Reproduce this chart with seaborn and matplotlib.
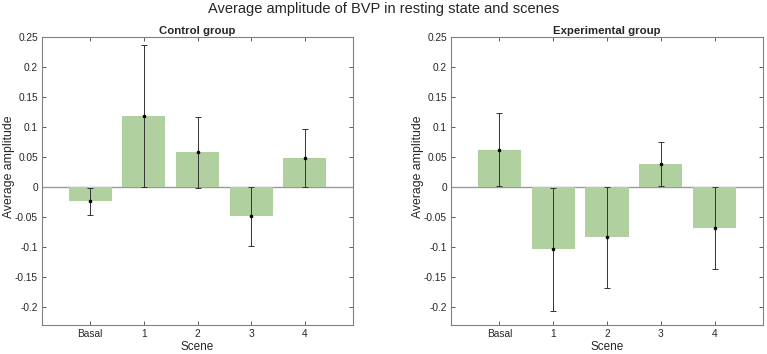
import numpy as np
import pandas as pd
import seaborn as sns
import matplotlib
matplotlib.use("Agg")
import matplotlib.pyplot as plt
from matplotlib.ticker import FuncFormatter

scenes = ["Basal", "1", "2", "3", "4"]
control_mean = [-0.024, 0.118, 0.058, -0.049, 0.048]
control_err = [0.023, 0.118, 0.059, 0.049, 0.048]
exp_mean = [0.062, -0.104, -0.084, 0.038, -0.068]
exp_err = [0.061, 0.103, 0.084, 0.037, 0.068]
yticks = [-0.2, -0.15, -0.1, -0.05, 0, 0.05, 0.1, 0.15, 0.2, 0.25]

sns.set_theme(style="white")
plt.rcParams.update({
    'font.family': ['Liberation Sans', 'DejaVu Sans'],
    'text.color': '#262626',
    'axes.labelcolor': '#262626',
    'xtick.color': '#262626',
    'ytick.color': '#262626',
})

BAR_COLOR = "#b1d0a0"
fig = plt.figure(figsize=(7.67, 3.54), dpi=100)
ax1 = fig.add_axes([0.0548, 0.0819, 0.4055, 0.8136])
ax2 = fig.add_axes([0.5880, 0.0819, 0.4068, 0.8136])

panels = [(ax1, "Control group", control_mean, control_err),
          (ax2, "Experimental group", exp_mean, exp_err)]

for ax, title, means, errs in panels:
    df = pd.DataFrame({"Scene": scenes, "Average amplitude": means})
    sns.barplot(data=df, x="Scene", y="Average amplitude", color=BAR_COLOR,
                saturation=1, width=0.8, errorbar=None, ax=ax, zorder=2,
                edgecolor="none", linewidth=0)
    ax.axhline(0, color="#9a9a9a", linewidth=1.0, zorder=1)
    xs = np.arange(len(scenes))
    ax.errorbar(xs, means, yerr=errs, fmt="o", color="black", ecolor="#333333",
                markersize=1.6, elinewidth=0.7, capsize=2.2, capthick=0.7, zorder=3)
    ax.set_xlim(-0.9, 4.9)
    ax.set_ylim(-0.23, 0.25)
    ax.set_yticks(yticks)
    ax.yaxis.set_major_formatter(FuncFormatter(lambda v, p: f"{v:g}"))
    ax.set_title(title, fontsize=8.2, fontweight="bold", pad=2)
    ax.set_xlabel("Scene", fontsize=8.5, labelpad=1)
    ax.set_ylabel("Average amplitude", fontsize=8.8)
    ax.yaxis.set_label_coords(-0.087, 0.55)
    ax.tick_params(axis="both", labelsize=7.3, direction="in", length=3, width=0.6,
                   top=True, right=True, bottom=True, left=True, pad=3,
                   color="#404040")
    for spine in ax.spines.values():
        spine.set_color("#808080")
        spine.set_linewidth(0.8)

fig.suptitle("Average amplitude of BVP in resting state and scenes",
             fontsize=10.5, y=0.995, color="#262626")

plt.savefig("out.png", dpi=100)
plt.close()
